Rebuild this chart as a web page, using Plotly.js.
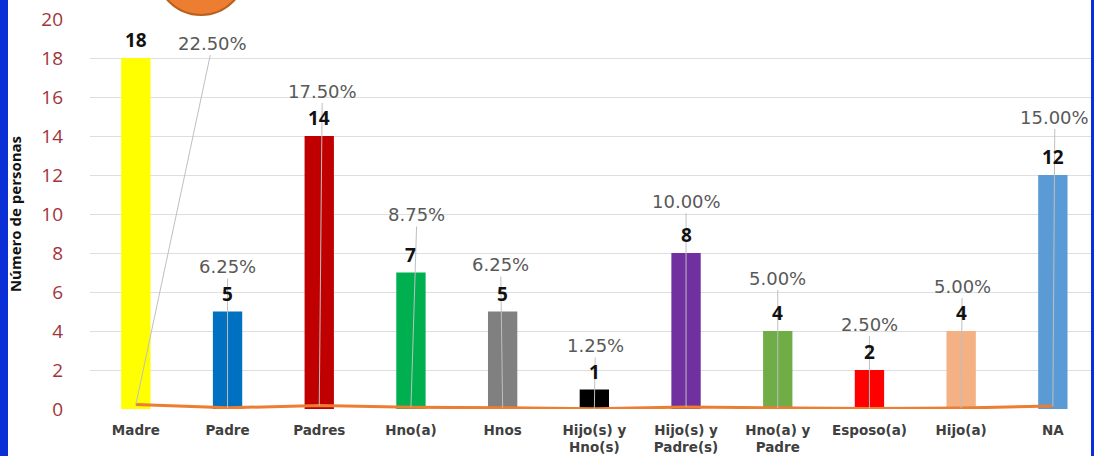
<!DOCTYPE html>
<html>
<head>
<meta charset="utf-8">
<script src="https://cdn.plot.ly/plotly-3.0.1.min.js"></script>
<style>
  html, body { margin: 0; padding: 0; background: #ffffff; overflow: hidden; }
  #wrap { position: relative; width: 1094px; height: 456px; overflow: hidden; }
  #chart { position: absolute; left: 0; top: 0; width: 1094px; height: 456px; }
  #bl { position: absolute; left: 0; top: 0; width: 8px; height: 456px; background: #0a2fd6; z-index: 5; }
  #br { position: absolute; right: 0; top: 0; width: 3px; height: 456px; background: #0a2fd6; z-index: 5; }
  #circ { position: absolute; left: 155px; top: -76px; width: 88px; height: 88px; border-radius: 50%;
          background: #ED7D31; border: 2px solid #b9601f; z-index: 5; }
</style>
</head>
<body>
<div id="wrap">
  <div id="chart"></div>
  <div id="bl"></div>
  <div id="br"></div>
  <div id="circ"></div>
</div>
<script>
// ---- data ----
const categories = ["Madre", "Padre", "Padres", "Hno(a)", "Hnos", "Hijo(s) y<br>Hno(s)",
                    "Hijo(s) y<br>Padre(s)", "Hno(a) y<br>Padre", "Esposo(a)", "Hijo(a)", "NA"];
const counts = [18, 5, 14, 7, 5, 1, 8, 4, 2, 4, 12];
const percents = [22.50, 6.25, 17.50, 8.75, 6.25, 1.25, 10.00, 5.00, 2.50, 5.00, 15.00];
const yTicks = [0, 2, 4, 6, 8, 10, 12, 14, 16, 18, 20];

// ---- styles ----
const barColors = ["#FFFF00", "#0070C0", "#C00000", "#00B050", "#808080", "#000000",
                   "#7030A0", "#70AD47", "#FF0000", "#F4B183", "#5B9BD5"];
// pixel distance of the percent label above the bar top, and horizontal pixel shift
const pctLabelDy = [15, 45, 45, 58, 47, 44, 52, 53, 46, 45, 58];
const pctLabelDx = [77, 0, 3, 6, -2, 1, 0, 0, 0, 1, 2];

const l = 90, r = 2, t = 19, b = 47;
const W = 1094, H = 456;
const plotW = W - l - r, plotH = H - t - b;
const xMin = -0.5, xMax = xMin + plotW / 91.7;
const yMin = 0, yMax = 20;
const pxPerY = plotH / (yMax - yMin);
const pxPerX = plotW / (xMax - xMin);

const idx = categories.map((_, i) => i);

const bars = {
  type: "bar",
  x: idx,
  y: counts,
  width: 0.32,
  marker: { color: barColors, line: { width: 0 } },
  hoverinfo: "skip",
  showlegend: false
};

const line = {
  type: "scatter",
  mode: "lines",
  x: idx,
  y: percents.map(p => p / 100),
  line: { color: "#ED7D31", width: 3 },
  cliponaxis: false,
  hoverinfo: "skip",
  showlegend: false
};

const annotations = [];
idx.forEach(i => {
  annotations.push({
    x: i, y: percents[i] / 100, xref: "x", yref: "y",
    axref: "x", ayref: "y",
    ax: i + pctLabelDx[i] / pxPerX,
    ay: counts[i] + pctLabelDy[i] / pxPerY,
    text: percents[i].toFixed(2) + "%",
    showarrow: true, arrowhead: 0, arrowwidth: 1, arrowcolor: "#bfbfbf",
    standoff: 0, startstandoff: 0,
    font: { family: "DejaVu Sans", size: 18, color: "#595959" }
  });
});
idx.forEach(i => {
  annotations.push({
    x: i, y: counts[i], xref: "x", yref: "y",
    text: "<b>" + counts[i] + "</b>",
    showarrow: false, yanchor: "middle", yshift: 18,
    font: { family: "Open Sans", size: 19, color: "#111111" }
  });
});

const layout = {
  width: W, height: H,
  margin: { l: l, r: r, t: t, b: b, pad: 0 },
  paper_bgcolor: "#ffffff",
  plot_bgcolor: "#ffffff",
  showlegend: false,
  xaxis: {
    type: "linear",
    range: [xMin, xMax],
    tickvals: idx,
    ticktext: categories.map(c => "<b>" + c + "</b>"),
    tickfont: { family: "DejaVu Sans", size: 13.5, color: "#404040" },
    showgrid: false, zeroline: false, showline: false,
    ticks: "", ticklabelstandoff: 11, fixedrange: true
  },
  yaxis: {
    range: [yMin, yMax],
    tickvals: yTicks,
    tickfont: { family: "Open Sans", size: 19, color: "#a3343c" },
    showgrid: true, gridcolor: "#dedede", gridwidth: 1,
    zeroline: false, showline: false, ticks: "",
    ticklabelstandoff: 26, fixedrange: true,
    title: { text: "<b>Número de personas</b>", standoff: 16,
             font: { family: "Open Sans", size: 15, color: "#111111" } }
  },
  annotations: annotations
};

Plotly.newPlot("chart", [bars, line], layout, { displayModeBar: false, staticPlot: true });
</script>
</body>
</html>
